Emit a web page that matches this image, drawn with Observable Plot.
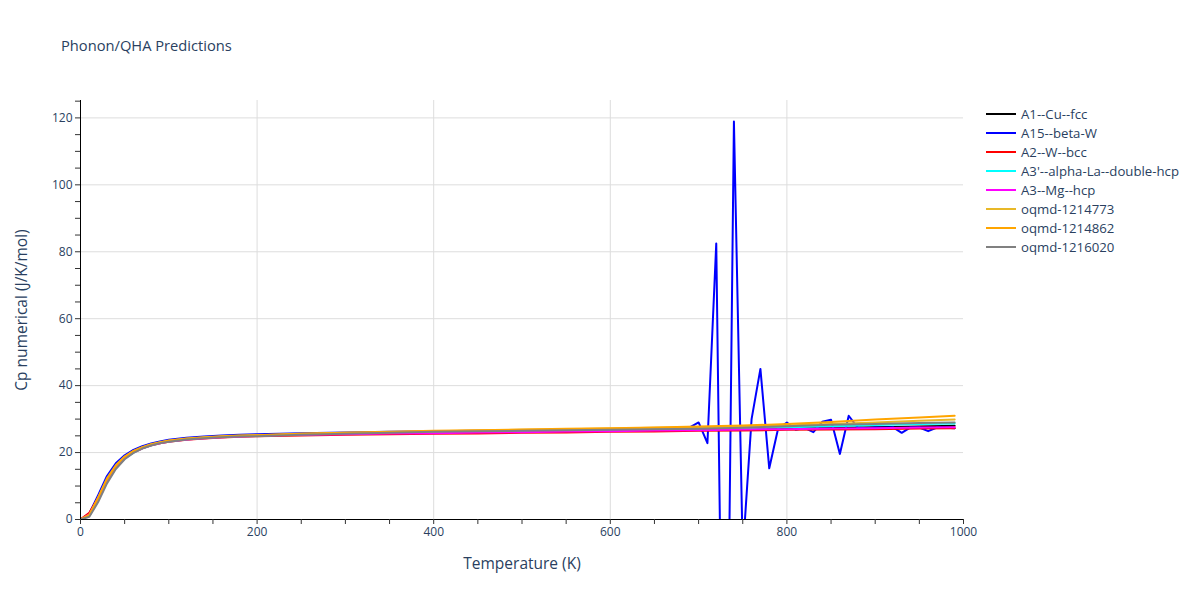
<!DOCTYPE html>
<html><head><meta charset="utf-8">
<script src="https://cdn.jsdelivr.net/npm/d3@7"></script>
<script src="https://cdn.jsdelivr.net/npm/@observablehq/plot@0.6"></script>
<style>
body{margin:0;background:#fff;font-family:"Open Sans",sans-serif;}
#wrap{position:relative;width:1200px;height:600px;}
#title{position:absolute;left:61px;top:34.5px;font-size:14.7px;color:#2a3f5f;white-space:nowrap;}
#legend{position:absolute;left:986px;top:104.5px;font-size:13.2px;color:#2a3f5f;}
.item{height:19px;display:flex;align-items:center;white-space:nowrap;}
.swatch{width:30px;height:2px;margin-right:5px;}
</style></head><body>
<div id="wrap"><div id="chart"></div><div id="title">Phonon/QHA Predictions</div><div id="legend"></div></div>
<script>
const seriesNames = ["A1--Cu--fcc","A15--beta-W","A2--W--bcc","A3'--alpha-La--double-hcp","A3--Mg--hcp","oqmd-1214773","oqmd-1214862","oqmd-1216020"];
const seriesColors = ["#000000","#0000ff","#ff0000","#00ffff","#ff00ff","#e8b828","#ffa500","#808080"];

const tempsSmooth = [0,10,20,30,40,50,60,70,80,90,100,120,140,160,180,200,250,300,350,400,450,500,550,600,650,700,750,800,850,900,950,990];
const cpCu   = [0,1.2,6.0,11.5,15.6,18.3,20.1,21.4,22.3,22.9,23.4,24.1,24.5,24.8,25.0,25.2,25.5,25.7,25.9,26.0,26.2,26.3,26.4,26.6,26.7,26.8,27.0,27.2,27.4,27.6,27.8,28.0];
const cpWbcc = [0,2.0,6.5,11.8,15.8,18.4,20.1,21.3,22.2,22.8,23.2,23.8,24.2,24.5,24.7,24.9,25.1,25.3,25.5,25.6,25.7,25.9,26.0,26.2,26.3,26.5,26.6,26.8,26.9,27.0,27.2,27.3];
const cpLa   = [0,1.1,5.8,11.2,15.4,18.2,20.0,21.3,22.2,22.9,23.3,24.0,24.4,24.7,24.9,25.1,25.4,25.7,25.9,26.1,26.3,26.4,26.6,26.8,26.9,27.1,27.3,27.6,27.9,28.2,28.5,28.7];
const cpMg   = [0,1.5,6.2,11.6,15.6,18.3,20.1,21.3,22.2,22.8,23.3,23.9,24.3,24.6,24.8,25.0,25.3,25.5,25.7,25.8,26.0,26.1,26.3,26.4,26.6,26.7,26.9,27.0,27.2,27.3,27.5,27.6];
const cp773  = [0,1.3,6.6,12.3,16.2,18.8,20.5,21.6,22.5,23.1,23.6,24.2,24.6,24.9,25.1,25.2,25.6,25.9,26.1,26.4,26.6,26.8,27.0,27.2,27.4,27.6,27.8,28.1,28.5,29.0,29.5,29.9];
const cp862  = [0,1.4,6.4,12.0,16.0,18.7,20.4,21.5,22.4,23.0,23.5,24.1,24.5,24.8,25.0,25.2,25.6,25.9,26.2,26.5,26.7,26.9,27.1,27.3,27.5,27.8,28.1,28.5,29.1,29.9,30.5,31.0];
const cp020  = [0,0.8,5.2,10.8,15.1,18.0,19.9,21.2,22.1,22.8,23.2,23.9,24.3,24.6,24.8,24.9,25.3,25.6,25.9,26.2,26.4,26.5,26.7,26.8,27.0,27.1,27.4,27.9,28.3,28.5,28.8,29.0];

const tempsBetaW = [0,10,20,30,40,50,60,70,80,90,100,120,140,160,180,200,250,300,350,400,450,500,550,600,650,680,690,700,710,720,730,740,750,760,770,780,790,800,810,820,830,840,850,860,870,880,890,900,910,920,930,940,950,960,970,980,990];
const cpBetaW    = [0,1.8,7.3,13.0,16.8,19.2,20.8,21.9,22.7,23.3,23.8,24.4,24.8,25.1,25.3,25.5,25.8,26.0,26.2,26.4,26.5,26.6,26.8,27.0,27.2,27.4,27.5,29.0,22.8,82.5,-120,118.9,-10,30.0,45.0,15.3,27.1,29.0,26.8,27.4,26.1,29.2,29.8,19.6,31.0,27.5,27.3,27.5,27.4,27.6,25.9,27.5,27.5,26.4,27.5,27.4,27.3];

const rows = [];
function add(name, ts, vs){ ts.forEach((t,i)=>rows.push({series:name, T:t, cp:vs[i]})); }
add(seriesNames[0], tempsSmooth, cpCu);
add(seriesNames[1], tempsBetaW, cpBetaW);
add(seriesNames[2], tempsSmooth, cpWbcc);
add(seriesNames[3], tempsSmooth, cpLa);
add(seriesNames[4], tempsSmooth, cpMg);
add(seriesNames[5], tempsSmooth, cp773);
add(seriesNames[6], tempsSmooth, cp862);
add(seriesNames[7], tempsSmooth, cp020);

const xTicks = d3.range(0, 1001, 50);
const yTicks = d3.range(0, 126, 5);

const chart = Plot.plot({
  width: 1200, height: 600,
  marginLeft: 80, marginRight: 237, marginTop: 100, marginBottom: 81,
  style: {fontFamily: "'Open Sans', sans-serif", fontSize: "12px", color: "#2a3f5f", background: "white"},
  x: {domain: [0, 1000]},
  y: {domain: [0, 125.2]},
  color: {domain: seriesNames, range: seriesColors},
  marks: [
    Plot.gridX([200,400,600,800], {stroke: "#dddddd", strokeOpacity: 1}),
    Plot.gridY([20,40,60,80,100,120], {stroke: "#dddddd", strokeOpacity: 1}),
    Plot.line(rows, {x: "T", y: "cp", z: "series", stroke: "series", strokeWidth: 2, clip: true}),
    Plot.ruleX([0], {stroke: "#000"}),
    Plot.ruleY([0], {stroke: "#000"}),
    Plot.axisX(xTicks, {tickSize: 5, tickPadding: 3, stroke: "#333", tickFormat: d => d % 200 === 0 ? String(d) : "",
      label: "Temperature (K)", labelAnchor: "center", labelOffset: 49, labelArrow: "none", fontSize: 12}),
    Plot.axisY(yTicks, {tickSize: 5, tickPadding: 3, stroke: "#333", tickFormat: d => d % 20 === 0 ? String(d) : "",
      label: "Cp numerical (J/K/mol)", labelAnchor: "center", labelOffset: 65, labelArrow: "none", fontSize: 12})
  ]
});
document.getElementById("chart").appendChild(chart);
chart.querySelectorAll("[aria-label='x-axis label'], [aria-label='y-axis label']").forEach(el => el.setAttribute("font-size", "15.5"));

const legend = document.getElementById("legend");
seriesNames.forEach((n, i) => {
  const it = document.createElement("div"); it.className = "item";
  const sw = document.createElement("div"); sw.className = "swatch"; sw.style.background = seriesColors[i];
  const tx = document.createElement("span"); tx.textContent = n;
  it.appendChild(sw); it.appendChild(tx); legend.appendChild(it);
});
</script>
</body></html>
